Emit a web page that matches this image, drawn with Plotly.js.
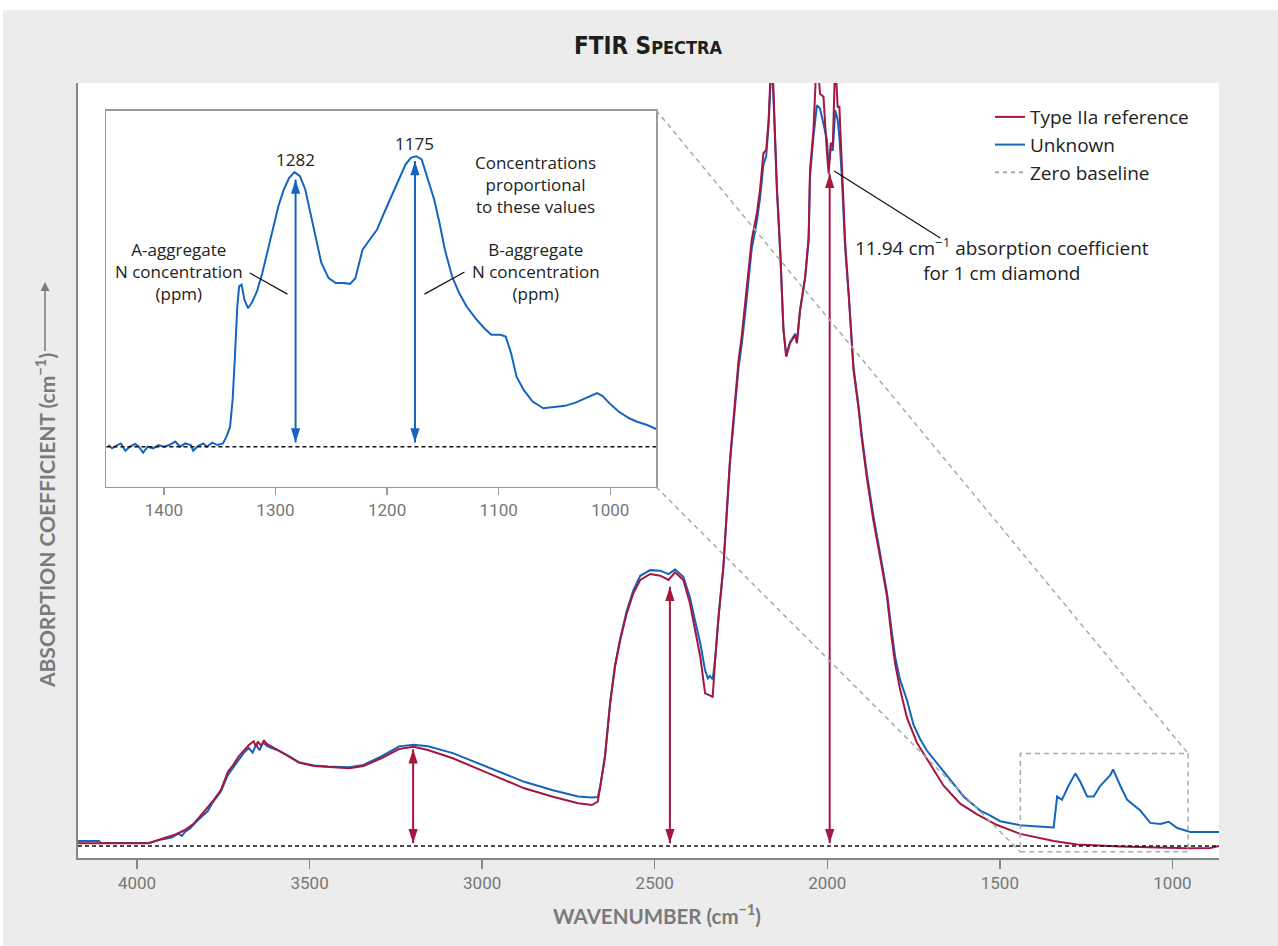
<!DOCTYPE html>
<html><head><meta charset="utf-8">
<script src="https://cdn.plot.ly/plotly-3.0.1.min.js"></script>
<style>
html,body{margin:0;padding:0;background:#fff;}
#chart{position:absolute;left:3px;top:10px;width:1275px;height:936px;}
</style></head><body><div id="chart"></div>
<script>
// ---- Data ----
const mainTicks = [4000, 3500, 3000, 2500, 2000, 1500, 1000];
const insetTicks = [1400, 1300, 1200, 1100, 1000];

const typeIIaWavenumber = [4172,3966,3923,3890,3861,3835,3809,3780,3757,3737,3720,3706,3690,3676,3662,3655,3650,3640,3632,3624,3592,3561,3531,3488,3447,3385,3344,3292,3241,3199,3157,3085,2981,2878,2795,2722,2682,2665,2658,2644,2629,2615,2600,2581,2562,2542,2513,2484,2460,2441,2417,2398,2383,2368,2354,2332,2325,2315,2301,2296,2282,2257,2248,2238,2228,2219,2204,2195,2185,2177,2170,2161,2156,2146,2136,2127,2119,2108,2093,2088,2079,2064,2054,2050,2040,2030,2021,2011,2001,1996,1990,1984,1977,1970,1965,1958,1948,1938,1930,1924,1910,1900,1885,1866,1847,1827,1813,1803,1789,1769,1740,1702,1663,1615,1566,1508,1441,1344,1276,1151,1055,957,890,861];
const typeIIaAbs = [0.048,0.048,0.137,0.20,0.284,0.40,0.586,0.80,0.995,1.314,1.45,1.586,1.70,1.794,1.86,1.76,1.853,1.78,1.87,1.812,1.705,1.586,1.480,1.421,1.409,1.380,1.421,1.558,1.723,1.764,1.705,1.558,1.291,1.025,0.876,0.758,0.728,0.787,1.053,1.586,2.540,3.185,3.659,4.133,4.488,4.725,4.831,4.801,4.725,4.861,4.725,4.311,3.837,3.362,2.712,2.652,3.304,4.073,4.961,5.435,6.86,8.632,9.046,9.639,10.231,10.764,11.238,11.652,12.304,12.362,12.895,14.2,13.43,11.71,10.53,9.165,8.691,8.929,9.076,8.929,9.52,10.11,10.82,12.007,12.718,14.1,13.36,13.31,12.31,11.94,12.49,12.42,14.0,13.13,13.13,12.007,10.71,9.80,9.05,8.45,7.80,7.229,6.526,5.766,5.133,4.433,3.671,3.227,2.783,2.275,1.831,1.451,1.071,0.753,0.563,0.373,0.215,0.089,0.025,-0.007,-0.027,-0.039,-0.036,0.005];

const unknownWavenumber = [4172,4110,4105,3966,3940,3923,3900,3880,3870,3861,3845,3830,3809,3795,3780,3757,3737,3720,3706,3690,3676,3665,3655,3645,3635,3624,3610,3592,3561,3531,3488,3447,3385,3344,3292,3241,3199,3157,3085,2981,2878,2795,2722,2682,2665,2658,2644,2629,2615,2600,2581,2562,2542,2513,2484,2460,2441,2417,2398,2383,2368,2354,2346,2340,2332,2325,2315,2301,2296,2282,2257,2248,2238,2228,2219,2204,2195,2185,2177,2170,2161,2156,2146,2136,2127,2119,2108,2093,2088,2079,2064,2054,2050,2040,2030,2021,2011,2001,1996,1990,1984,1977,1970,1965,1958,1948,1938,1930,1924,1910,1900,1885,1866,1847,1827,1813,1803,1789,1769,1750,1731,1712,1692,1653,1605,1557,1530,1499,1470,1441,1400,1344,1334,1320,1301,1281,1267,1247,1228,1209,1180,1172,1151,1131,1093,1064,1035,1011,986,948,861];
const unknownAbs = [0.09,0.09,0.055,0.055,0.10,0.12,0.15,0.22,0.18,0.25,0.32,0.42,0.55,0.62,0.78,0.97,1.26,1.40,1.53,1.66,1.74,1.66,1.80,1.70,1.84,1.78,1.74,1.70,1.60,1.49,1.43,1.41,1.40,1.44,1.59,1.77,1.80,1.77,1.65,1.40,1.14,0.99,0.88,0.86,0.87,1.05,1.60,2.56,3.21,3.68,4.18,4.54,4.80,4.90,4.89,4.83,4.91,4.78,4.42,4.00,3.60,3.12,2.98,3.02,2.96,3.30,4.07,4.96,5.40,6.80,8.50,8.90,9.45,10.05,10.60,11.10,11.50,12.10,12.25,12.80,14.0,13.3,11.65,10.50,9.17,8.72,8.95,9.10,8.95,9.50,10.10,10.75,11.90,12.60,13.16,13.10,12.85,12.55,12.05,12.40,12.35,13.07,12.90,12.60,11.90,10.60,9.80,9.10,8.50,7.85,7.30,6.60,5.85,5.20,4.50,3.80,3.35,2.95,2.59,2.15,1.90,1.70,1.55,1.26,0.88,0.63,0.55,0.44,0.41,0.37,0.35,0.33,0.88,0.82,1.07,1.29,1.14,0.88,0.88,1.07,1.26,1.36,1.07,0.82,0.63,0.41,0.39,0.43,0.32,0.25,0.25];

// Inset: Unknown, baseline-corrected, 1450-960 cm-1
const insetWavenumber = [1449.7,1446.5,1441.7,1438.5,1434.6,1430.5,1425.7,1422.5,1418.6,1414.4,1409.6,1404.8,1400,1395.2,1389.7,1385.6,1380.8,1375.9,1373.7,1369.5,1364.7,1361.5,1356.7,1351.9,1347.1,1343.9,1340.7,1338.4,1336.5,1334.2,1332.6,1330.4,1327.8,1324.6,1321.4,1316.6,1311.8,1307,1302.2,1297.4,1292.5,1287.7,1282.9,1278.1,1273.3,1268.5,1263.7,1258.9,1252.4,1246.0,1239.6,1233.2,1228.4,1222.0,1215.6,1209.1,1202.7,1196.3,1189.9,1183.5,1178.7,1173.9,1169.0,1164.2,1157.8,1153.0,1148.2,1141.8,1135.4,1128.9,1120.9,1112.9,1106.5,1098.5,1093.7,1088.9,1084.0,1077.6,1069.6,1060.0,1050.4,1040.7,1031.1,1023.1,1016.7,1011.9,1007.1,1000.6,992.6,983.0,976.6,966.9,958.3];
const insetAbs = [0.006,-0.006,0.006,0.012,-0.015,0.0,0.010,0.0,-0.022,0.0,-0.006,0.006,0.0,0.006,0.019,0.0,0.012,0.006,-0.015,0.002,0.012,0.0,0.015,0.006,0.012,0.037,0.074,0.173,0.321,0.519,0.593,0.599,0.543,0.512,0.531,0.574,0.642,0.728,0.815,0.889,0.951,0.994,1.015,1.000,0.951,0.864,0.765,0.679,0.623,0.605,0.605,0.602,0.623,0.728,0.765,0.802,0.864,0.926,0.988,1.043,1.068,1.074,1.062,1.000,0.914,0.827,0.728,0.630,0.568,0.519,0.475,0.438,0.414,0.414,0.407,0.346,0.259,0.210,0.167,0.142,0.146,0.151,0.163,0.177,0.191,0.198,0.188,0.160,0.130,0.105,0.093,0.080,0.064];

// Arrow markers (main): wavenumber and top value
const mainArrowWavenumber = [3200, 2456, 1993];
const mainArrowTop = [1.717, 4.606, 11.94];
const mainArrowBottom = 0.05;
// Inset arrows
const insetArrowWavenumber = [1282, 1175];
const insetArrowTop = [0.988, 1.056];
const insetArrowBottom = 0.015;
const insetPeakLabels = ['1282', '1175'];
const insetPeakLabelY = [1.062, 1.12];

// ---- Styling ----
const RED = '#a5173d';
const BLUE = '#1664bf';
const TXT = '"Open Sans", Lato, sans-serif';
const AXT = 'Lato, "Open Sans", sans-serif';
const TICKF = 'Roboto, "Liberation Sans", sans-serif';

const traces = [
  {x: insetWavenumber, y: insetAbs, xaxis: 'x2', yaxis: 'y2', mode: 'lines',
   line: {color: BLUE, width: 2}, showlegend: false, hoverinfo: 'skip'}
];
insetArrowWavenumber.forEach((w, i) => {
  traces.push({x: [w, w], y: [insetArrowBottom, insetArrowTop[i]], xaxis: 'x2', yaxis: 'y2',
    mode: 'lines+markers', line: {color: BLUE, width: 2},
    marker: {symbol: 'arrow', size: 15, angle: [180, 0], color: BLUE, line: {width: 0}},
    showlegend: false, hoverinfo: 'skip'});
});
traces.push(
  {x: [null], y: [null], mode: 'lines', name: 'Zero baseline', legendrank: 3,
   line: {color: '#aaaaaa', width: 2, dash: '4px,4px'}},
  {x: unknownWavenumber, y: unknownAbs, mode: 'lines', name: 'Unknown', legendrank: 2,
   line: {color: BLUE, width: 2}},
  {x: typeIIaWavenumber, y: typeIIaAbs, mode: 'lines', name: 'Type IIa reference', legendrank: 1,
   line: {color: RED, width: 2}}
);
mainArrowWavenumber.forEach((w, i) => {
  traces.push({x: [w, w], y: [mainArrowBottom, mainArrowTop[i]], mode: 'lines+markers',
    line: {color: RED, width: 2},
    marker: {symbol: 'arrow', size: 15, angle: [180, 0], color: RED, line: {width: 0}},
    showlegend: false, hoverinfo: 'skip'});
});

const annotations = [];
insetArrowWavenumber.forEach((w, i) => {
  annotations.push({x: w, y: insetPeakLabelY[i], xref: 'x2', yref: 'y2', text: insetPeakLabels[i], showarrow: false,
    font: {family: TXT, size: 17, color: '#222'}});
});
annotations.push(
  {x: 1067, y: 0.969, xref: 'x2', yref: 'y2', showarrow: false, align: 'center',
   text: 'Concentrations<br>proportional<br>to these values', font: {family: TXT, size: 17, color: '#222'}},
  {x: 1386.5, y: 0.648, xref: 'x2', yref: 'y2', showarrow: false, align: 'center',
   text: 'A-aggregate<br>N concentration<br>(ppm)', font: {family: TXT, size: 17, color: '#222'}},
  {x: 1067, y: 0.648, xref: 'x2', yref: 'y2', showarrow: false, align: 'center',
   text: 'B-aggregate<br>N concentration<br>(ppm)', font: {family: TXT, size: 17, color: '#222'}},
  {x: 1493, y: 10.41, xref: 'x', yref: 'y', showarrow: false, align: 'center',
   text: '11.94 cm<sup>−1</sup> absorption coefficient<br>for 1 cm diamond', font: {family: TXT, size: 19, color: '#222'}},
  // X-axis title
  {x: 0.5075, y: -0.0735, xref: 'paper', yref: 'paper', showarrow: false, yanchor: 'middle',
   text: '<b>WAVENUMBER (cm<sup>−1</sup>)</b>', font: {family: AXT, size: 20.5, color: '#7a7a7a'}},
  // Y-axis title with its arrow
  {x: -0.0289, y: 0.7432, xref: 'paper', yref: 'paper', ax: 0, ay: 239, showarrow: true, textangle: -90,
   text: '<b>ABSORPTION COEFFICIENT (cm<sup>−1</sup>)</b>', font: {family: AXT, size: 21, color: '#7a7a7a'},
   arrowhead: 2, arrowsize: 1.2, arrowwidth: 1.5, arrowcolor: '#7a7a7a', standoff: 0, borderpad: 2}
);

const shapes = [
  {type: 'line', xref: 'paper', yref: 'y', x0: 0, x1: 1, y0: 0, y1: 0, line: {color: '#111', width: 1.5, dash: '4px,3px'}},
  {type: 'line', xref: 'x2 domain', yref: 'y2', x0: 0, x1: 1, y0: 0, y1: 0, line: {color: '#111', width: 1.5, dash: '4px,3px'}},
  {type: 'rect', xref: 'x', yref: 'y', x0: 1440.6, x1: 954.5, y0: -0.103, y1: 1.641, line: {color: '#aaa', width: 1.5, dash: '5px,4px'}},
  {type: 'line', xref: 'x', yref: 'y', x0: 2496, y0: 13.07, x1: 954.5, y1: 1.641, line: {color: '#aaa', width: 1.5, dash: '5px,4px'}},
  {type: 'line', xref: 'x', yref: 'y', x0: 2496, y0: 6.377, x1: 1440.6, y1: -0.103, line: {color: '#aaa', width: 1.5, dash: '5px,4px'}},
  {type: 'line', xref: 'x', yref: 'y', x0: 1980, y0: 11.99, x1: 1672.7, y1: 10.80, line: {color: '#111', width: 1.2}},
  {type: 'line', xref: 'x2', yref: 'y2', x0: 1323, y0: 0.642, x1: 1289.3, y1: 0.564, line: {color: '#111', width: 1.2}},
  {type: 'line', xref: 'x2', yref: 'y2', x0: 1130.6, y0: 0.646, x1: 1166.5, y1: 0.564, line: {color: '#111', width: 1.2}}
];

const layout = {
  width: 1275, height: 936,
  paper_bgcolor: '#ececec', plot_bgcolor: '#ffffff',
  margin: {l: 75, r: 59, t: 73, b: 88},
  title: {text: '<b>FTIR S<span style="font-size:18px">PECTRA</span></b>', x: 0.5059, xanchor: 'center',
          y: 0.9615, yanchor: 'middle',
          font: {family: '"Liberation Sans Narrow", "DejaVu Sans Condensed", sans-serif', size: 24, color: '#1e1e1e'}},
  showlegend: true,
  legend: {x: 0.7993, y: 0.9806, xanchor: 'left', yanchor: 'top', bgcolor: 'rgba(0,0,0,0)',
           font: {family: TXT, size: 19, color: '#222'}, tracegroupgap: 0, itemwidth: 30},
  xaxis: {range: [4171, 865], autorange: false, tickvals: mainTicks, ticks: 'outside', ticklen: 9, tickwidth: 1.5,
          tickcolor: '#888', showline: true, linecolor: '#888', linewidth: 2, showgrid: false, zeroline: false,
          tickfont: {family: TICKF, size: 17, color: '#777'}, anchor: 'y'},
  yaxis: {range: [-0.213, 13.552], autorange: false, showticklabels: false, ticks: '', showline: true,
          linecolor: '#888', linewidth: 2, showgrid: false, zeroline: false},
  xaxis2: {domain: [0.0249, 0.5066], anchor: 'y2', range: [1451.5, 959], autorange: false, tickvals: insetTicks,
           ticks: 'outside', ticklen: 7, tickwidth: 1.5, tickcolor: '#999', showline: true, mirror: true,
           linecolor: '#999', linewidth: 1.5, showgrid: false, zeroline: false,
           tickfont: {family: TICKF, size: 17, color: '#777'}},
  yaxis2: {domain: [0.4791, 0.9645], anchor: 'x2', range: [-0.148, 1.243], autorange: false, showticklabels: false,
           ticks: '', showline: true, mirror: true, linecolor: '#999', linewidth: 1.5, showgrid: false, zeroline: false},
  annotations: annotations,
  shapes: shapes,
  hovermode: false
};

Plotly.newPlot('chart', traces, layout, {displayModeBar: false, staticPlot: true});
</script></body></html>
